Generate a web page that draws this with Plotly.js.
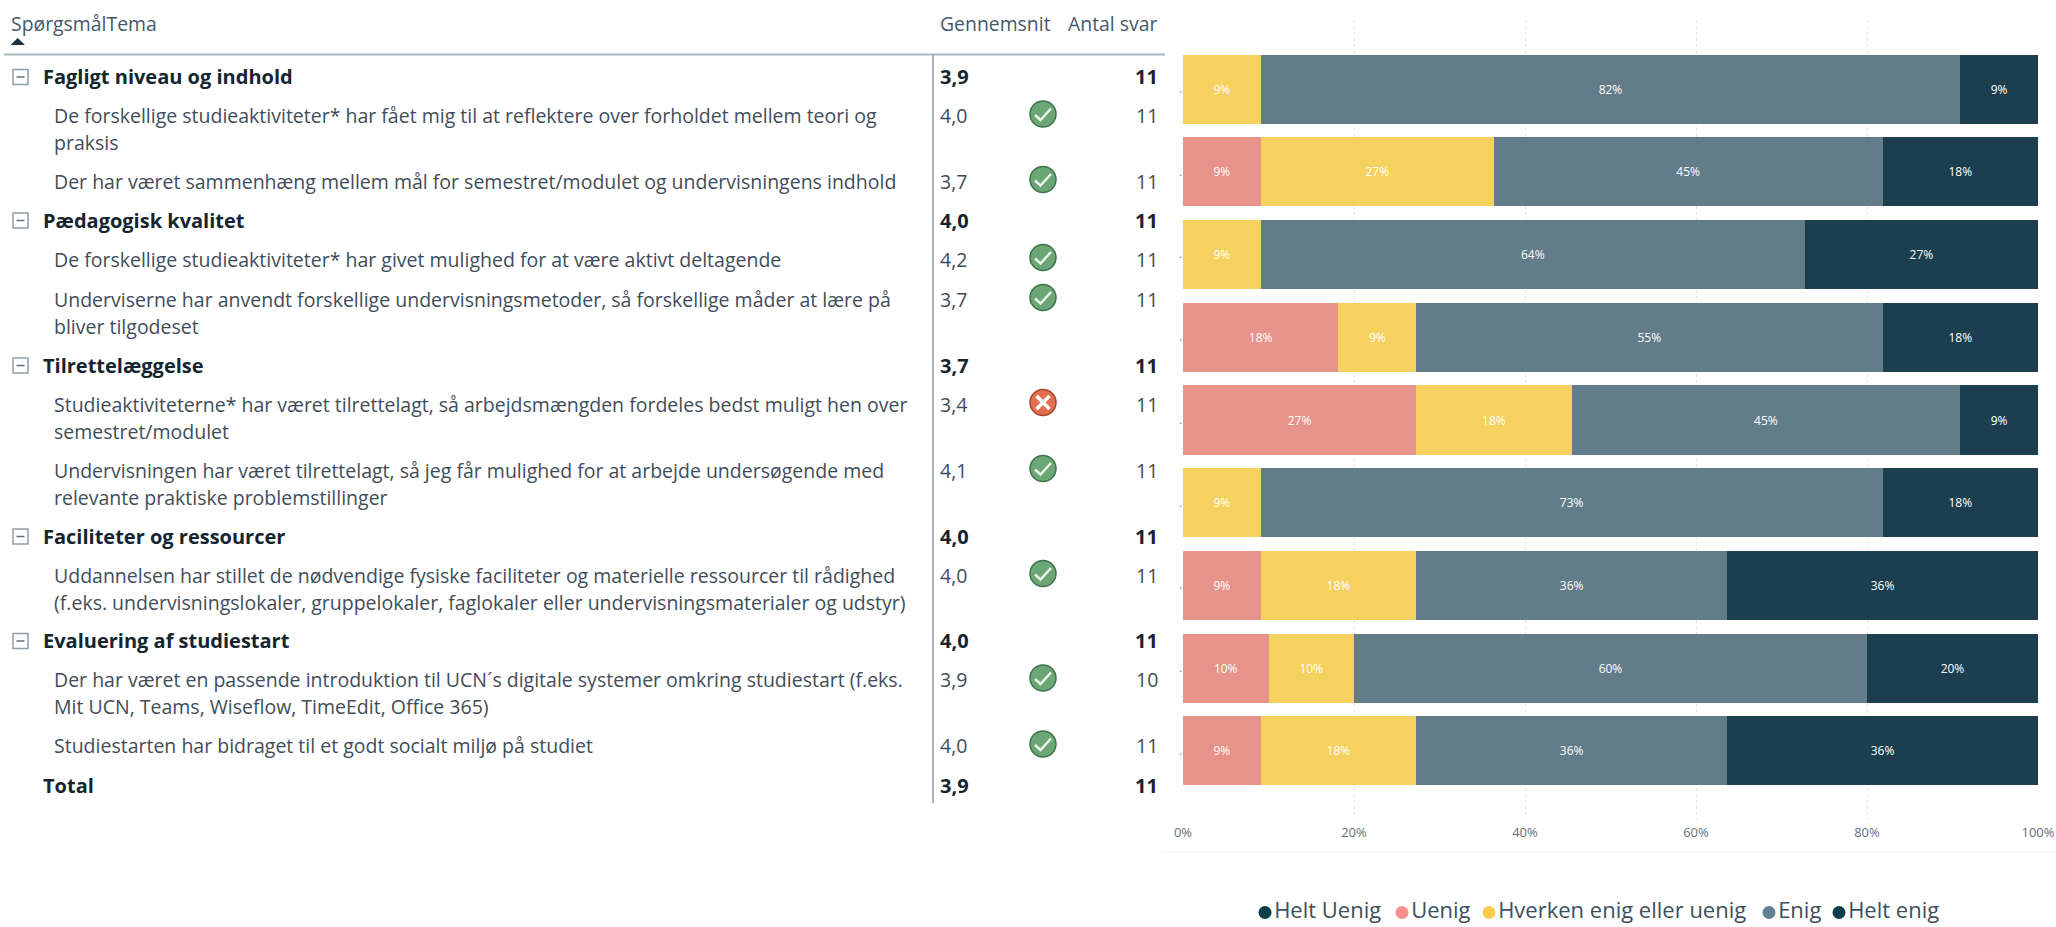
<!DOCTYPE html>
<html><head><meta charset="utf-8">
<script src="https://cdn.plot.ly/plotly-3.0.1.min.js"></script>
<style>html,body{margin:0;padding:0;background:#fff}#c{width:2056px;height:927px}</style>
</head><body><div id="c"></div>
<script>
// ---- data ----
const questions = ["Q1","Q2","Q3","Q4","Q5","Q6","Q7","Q8","Q9"];
const tickDots = [".",".",".",".",".",".",".",".","."];
const uenig    = [0,1,0,2,3,0,1,1,1];
const hverken  = [1,3,1,1,2,1,2,1,2];
const enig     = [9,5,7,6,5,8,4,6,4];
const heltEnig = [1,2,3,2,1,2,4,2,4];
const xTicks = [0,20,40,60,80,100];
const legendNames = ["Helt Uenig","Uenig","Hverken enig eller uenig","Enig","Helt enig"];
const legendColors = ["#0b3f4c","#fb8e8a","#fbcb52","#5f8191","#0b3f4c"];
const barColors = {Uenig:"#e8938a",Hverken:"#f5d160",Enig:"#637c89",Helt:"#1c3f50"};
const rows = [
 {t:"Fagligt niveau og indhold",avg:"3,9",n:"11",group:1,y:76.5},
 {t:"De forskellige studieaktiviteter* har fået mig til at reflektere over forholdet mellem teori og<br>praksis",avg:"4,0",n:"11",icon:"ok",y:115.5},
 {t:"Der har været sammenhæng mellem mål for semestret/modulet og undervisningens indhold",avg:"3,7",n:"11",icon:"ok",y:181},
 {t:"Pædagogisk kvalitet",avg:"4,0",n:"11",group:1,y:220},
 {t:"De forskellige studieaktiviteter* har givet mulighed for at være aktivt deltagende",avg:"4,2",n:"11",icon:"ok",y:259},
 {t:"Underviserne har anvendt forskellige undervisningsmetoder, så forskellige måder at lære på<br>bliver tilgodeset",avg:"3,7",n:"11",icon:"ok",y:299},
 {t:"Tilrettelæggelse",avg:"3,7",n:"11",group:1,y:365},
 {t:"Studieaktiviteterne* har været tilrettelagt, så arbejdsmængden fordeles bedst muligt hen over<br>semestret/modulet",avg:"3,4",n:"11",icon:"bad",y:404},
 {t:"Undervisningen har været tilrettelagt, så jeg får mulighed for at arbejde undersøgende med<br>relevante praktiske problemstillinger",avg:"4,1",n:"11",icon:"ok",y:470},
 {t:"Faciliteter og ressourcer",avg:"4,0",n:"11",group:1,y:536},
 {t:"Uddannelsen har stillet de nødvendige fysiske faciliteter og materielle ressourcer til rådighed<br>(f.eks. undervisningslokaler, gruppelokaler, faglokaler eller undervisningsmaterialer og udstyr)",avg:"4,0",n:"11",icon:"ok",y:575},
 {t:"Evaluering af studiestart",avg:"4,0",n:"11",group:1,y:640.5},
 {t:"Der har været en passende introduktion til UCN´s digitale systemer omkring studiestart (f.eks.<br>Mit UCN, Teams, Wiseflow, TimeEdit, Office 365)",avg:"3,9",n:"10",icon:"ok",y:679.5},
 {t:"Studiestarten har bidraget til et godt socialt miljø på studiet",avg:"4,0",n:"11",icon:"ok",y:745.5},
 {t:"Total",avg:"3,9",n:"11",total:1,y:785}
];
// ---- build ----
const FONT = "'Open Sans','Noto Sans',sans-serif";
const TXT = "#3f4d5a", BOLD = "#14252f", SZ = 19.5, SZB = 20;
const totals = questions.map((_,i)=>uenig[i]+hverken[i]+enig[i]+heltEnig[i]);
const pct = a => a.map((v,i)=> v ? Math.round(100*v/totals[i])+"%" : "");
function bar(name,vals,color){
  return {type:"bar",orientation:"h",name,y:questions,x:vals,text:pct(vals),textposition:"inside",
    insidetextanchor:"middle",textangle:0,constraintext:"none",
    textfont:{color:"#ffffff",size:12,family:FONT},marker:{color,line:{width:0}},showlegend:false,hoverinfo:"name+text"};
}
const traces = [
  bar("Uenig",uenig,barColors.Uenig),
  bar("Hverken enig eller uenig",hverken,barColors.Hverken),
  bar("Enig",enig,barColors.Enig),
  bar("Helt enig",heltEnig,barColors.Helt)
];
const legendX = [1265,1402,1489,1769,1839];
legendNames.forEach((nm,i)=>traces.push({type:"scatter",mode:"markers+text",xaxis:"x2",yaxis:"y2",
  x:[legendX[i]],y:[912.5],text:[nm],textposition:"middle right",
  textfont:{size:22,color:"#3d4f5c",family:FONT},marker:{size:13,color:legendColors[i]},showlegend:false,hoverinfo:"skip"}));

const ann=[], shapes=[];
const A=(x,y,text,o={})=>ann.push(Object.assign({xref:"x2",yref:"y2",x,y,text,showarrow:false,xanchor:"left",yanchor:"middle",align:"left",
   font:{family:FONT,size:SZ,color:TXT}},o));
const L=(x0,y0,x1,y1,color,width)=>shapes.push({type:"line",xref:"x2",yref:"y2",x0,y0,x1,y1,line:{color,width}});
const HDR={family:FONT,size:19.4,color:"#46586a"};
A(9,23,"SpørgsmålTema",{font:HDR});
A(938,23,"Gennemsnit",{font:HDR});
A(1159,23,"Antal svar",{xanchor:"right",font:HDR});
shapes.push({type:"path",xref:"x2",yref:"y2",path:"M 10.5 45 L 25 45 L 17.7 38 Z",fillcolor:"#1c3342",line:{width:0}});
L(4,54.5,1165,54.5,"#a9b6be",2);
L(933,55,933,803,"#a9b6be",2);
rows.forEach(r=>{
  const strong=r.group||r.total;
  const f=strong?{family:FONT,size:SZB,color:BOLD,weight:700}:{family:FONT,size:SZ,color:TXT};
  r.t.split("<br>").forEach((line,i)=>A(strong?41:52,r.y+i*27,line,{font:f}));
  A(938,r.y,r.avg,{font:f});
  A(1159.5,r.y,r.n,{xanchor:"right",font:f});
  if(r.group){
    shapes.push({type:"rect",xref:"x2",yref:"y2",x0:13,x1:28,y0:r.y-7,y1:r.y+8,line:{color:"#8ea0aa",width:1.5},fillcolor:"#fff"});
    L(16.5,r.y+.5,24.5,r.y+.5,"#5f7380",1.5);
  }
  if(r.icon){
    const cx=1043, cy=r.y-1.5, R=13;
    const ok=r.icon==="ok";
    shapes.push({type:"circle",xref:"x2",yref:"y2",x0:cx-R,x1:cx+R,y0:cy-R,y1:cy+R,
       fillcolor:ok?"#6aa775":"#e0704f",line:{color:ok?"#3f7350":"#a8452e",width:1.5}});
    if(ok) shapes.push({type:"path",xref:"x2",yref:"y2",path:`M ${cx-8} ${cy+1} L ${cx-2.5} ${cy+6} L ${cx+8} ${cy-5.5}`,line:{color:"#eef3ee",width:2.5}});
    else { L(cx-6.5,cy-6.5,cx+6.5,cy+6.5,"#ffffff",3.5); L(cx-6.5,cy+6.5,cx+6.5,cy-6.5,"#ffffff",3.5); }
  }
});
L(1163,852,2056,852,"#f6f6f6",1);

const layout={
  width:2056,height:927,margin:{l:0,r:0,t:0,b:0},paper_bgcolor:"#fff",plot_bgcolor:"rgba(0,0,0,0)",
  barmode:"stack",barnorm:"percent",bargap:0.165,showlegend:false,
  font:{family:FONT},
  xaxis:{domain:[1183/2056,2038/2056],range:[0,100],tickmode:"array",tickvals:xTicks,ticktext:xTicks.map(v=>v+"%"),
    tickfont:{size:13,color:"#5f6f7d",family:FONT},ticklabelstandoff:3,showgrid:true,gridcolor:"#e4e4e4",griddash:"dot",gridwidth:1,
    zeroline:false,showline:false,ticks:"",anchor:"y",automargin:false},
  yaxis:{domain:[1-820/927,1-20/927],type:"category",categoryorder:"array",categoryarray:questions,
    range:[8.837,-0.837],tickmode:"array",tickvals:questions,ticktext:tickDots,
    tickfont:{size:11,color:"#4f86b8",family:FONT},showgrid:false,zeroline:false,showline:false,ticks:"",automargin:false,anchor:"x"},
  xaxis2:{domain:[0,1],range:[0,2056],visible:false,fixedrange:true,anchor:"y2"},
  yaxis2:{domain:[0,1],range:[927,0],visible:false,fixedrange:true,anchor:"x2"},
  annotations:ann,shapes
};
Plotly.newPlot("c",traces,layout,{displayModeBar:false,staticPlot:true});
</script></body></html>
